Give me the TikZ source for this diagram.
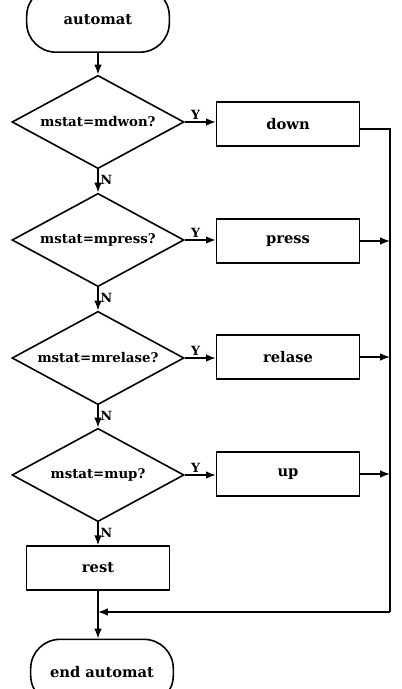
\documentclass[tikz,border=0pt]{standalone}
\usepackage{fontspec}
\setmainfont{DejaVu Serif}
\usetikzlibrary{arrows.meta,positioning,shapes.geometric}
\tikzset{
  ar/.style={-{Latex[length=2.6mm,width=2mm]},line width=1.1pt},
  ln/.style={line width=1.1pt},
  txt/.style={font=\bfseries\fontsize{10}{12}\selectfont},
  bigtxt/.style={font=\bfseries\fontsize{11}{13}\selectfont},
  term/.style={rectangle,rounded corners=22pt,draw,line width=1.2pt,minimum width=107pt,minimum height=49pt,bigtxt},
  dec/.style={diamond,draw,line width=1.2pt,aspect=1.85,inner sep=0pt,minimum width=129pt,minimum height=70pt,txt},
  blk/.style={rectangle,draw,line width=1.2pt,minimum width=107pt,minimum height=33pt,bigtxt},
  lbl/.style={font=\bfseries\fontsize{9.5}{11}\selectfont,inner sep=1.5pt}
}
\begin{document}
\begin{tikzpicture}[x=0.75pt,y=-0.75pt]
\useasboundingbox (0,0) rectangle (401,689);
\node[term] (start) at (98,19.5) {automat};
\node[dec] (d1) at (98,122) {mstat=mdwon?};
\node[dec] (d2) at (98,240) {mstat=mpress?};
\node[dec] (d3) at (98,358) {mstat=mrelase?};
\node[dec] (d4) at (98,475) {mstat=mup?};
\node[blk] (down) at (288,124) {down};
\node[blk] (press) at (288,241) {press};
\node[blk] (relase) at (288,357) {relase};
\node[blk] (up) at (288,474) {up};
\node[blk] (rest) at (98,568) {rest};
\node[term] (endt) at (102,672) {end automat};
\coordinate (rbus) at (390,129);
\coordinate (join) at (98,612);

\draw[ar] (start) -- (d1);
\draw[ar] (d1) -- node[lbl,right,pos=0.45]{N} (d2);
\draw[ar] (d2) -- node[lbl,right,pos=0.45]{N} (d3);
\draw[ar] (d3) -- node[lbl,right,pos=0.45]{N} (d4);
\draw[ar] (d4) -- node[lbl,right,pos=0.45]{N} (rest);
\draw[ar] (d1) -- node[lbl,above,pos=0.35]{Y} (down.west |- d1);
\draw[ar] (d2) -- node[lbl,above,pos=0.35]{Y} (press.west |- d2);
\draw[ar] (d3) -- node[lbl,above,pos=0.35]{Y} (relase.west |- d3);
\draw[ar] (d4) -- node[lbl,above,pos=0.35]{Y} (up.west |- d4);
\draw[ln] (down.east |- rbus) -- (rbus) -- (rbus |- join);
\draw[ar] (rbus |- join) -- (join);
\draw[ar] (press) -- (press -| rbus);
\draw[ar] (relase) -- (relase -| rbus);
\draw[ar] (up) -- (up -| rbus);
\draw[ar] (rest) -- (rest |- endt.north);
\end{tikzpicture}
\end{document}
